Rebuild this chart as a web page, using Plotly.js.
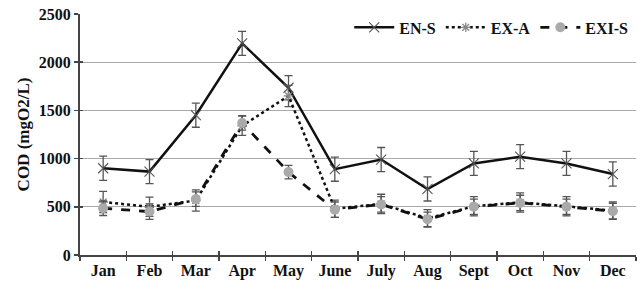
<!DOCTYPE html>
<html>
<head>
<meta charset="utf-8">
<script src="https://cdn.plot.ly/plotly-3.0.1.min.js"></script>
<style>html,body{margin:0;padding:0;background:#fff;}#chart{width:637px;height:283px;}</style>
</head>
<body>
<div id="chart"></div>
<script>
const months = ["Jan","Feb","Mar","Apr","May","June","July","Aug","Sept","Oct","Nov","Dec"];
const enS   = [900, 865, 1450, 2195, 1735, 890, 990, 685, 950, 1020, 950, 840];
const enSErr = [125, 125, 125, 125, 125, 125, 125, 125, 125, 125, 125, 125];
const exA   = [550, 500, 565, 1340, 1650, 480, 530, 380, 505, 545, 505, 460];
const exAErr = [110, 100, 110, 100, 110, 90, 100, 90, 100, 100, 100, 90];
const exiS  = [485, 450, 580, 1370, 860, 470, 525, 370, 500, 540, 500, 455];
const exiSErr = [75, 80, 75, 75, 70, 80, 80, 75, 80, 80, 80, 80];

const fam = "'Liberation Serif', 'Times New Roman', serif";
const tf = {family: fam, size: 16, color: "#111", weight: 'bold'};

const traces = [
  {x: months, y: enS, name: "EN-S", type: "scatter", mode: "lines+markers",
   line: {color: "#111", width: 2.5},
   marker: {symbol: "x-thin-open", size: 10, color: "#555", line: {color: "#555", width: 1.1}},
   error_y: {type: "data", array: enSErr, visible: true, color: "#555", thickness: 1.3, width: 4}},
  {x: months, y: exA, name: "EX-A", type: "scatter", mode: "lines+markers",
   line: {color: "#111", width: 2.5, dash: "dot"},
   marker: {symbol: "asterisk-open", size: 8, color: "#888", line: {color: "#888", width: 1.3}},
   error_y: {type: "data", array: exAErr, visible: true, color: "#555", thickness: 1.3, width: 4}},
  {x: months, y: exiS, name: "EXI-S", type: "scatter", mode: "lines+markers",
   line: {color: "#111", width: 2.8, dash: "dash"},
   marker: {symbol: "circle", size: 10, color: "#aaa"},
   error_y: {type: "data", array: exiSErr, visible: true, color: "#555", thickness: 1.3, width: 4}},
  {x: months, y: enS, xaxis: "x2", yaxis: "y2", type: "scatter", mode: "none", showlegend: false, hoverinfo: "skip"}
];

const layout = {
  width: 637, height: 283,
  margin: {l: 80, r: 1, t: 14, b: 28},
  paper_bgcolor: "#fff", plot_bgcolor: "#fff",
  font: tf,
  showlegend: true,
  legend: {orientation: "h", x: 0.995, xanchor: "right", y: 1.015, yanchor: "top",
           bgcolor: "rgba(255,255,255,0)", font: tf, itemwidth: 40, tracegroupgap: 0},
  xaxis: {type: "category", range: [-0.5, 11.5], showgrid: false, showline: true, linecolor: "#444", linewidth: 2,
          ticks: "outside", tickson: "boundaries", ticklen: 4, tickcolor: "#444", tickwidth: 1.5,
          tickfont: tf, zeroline: false, fixedrange: true},
  yaxis: {range: [0, 2500], dtick: 500, showgrid: true, gridcolor: "#aaa", gridwidth: 1,
          showline: true, linecolor: "#444", linewidth: 2, ticks: "outside", ticklen: 4, tickcolor: "#444", tickwidth: 1.5,
          zeroline: false, tickfont: tf,
          title: {text: "COD (mgO2/L)", standoff: 5, font: {family: fam, size: 17, color: "#111", weight: 'bold'}}},
  xaxis2: {type: "category", overlaying: "x", anchor: "y", range: [-0.5, 11.5], showgrid: false, showline: false,
           ticks: "inside", tickson: "boundaries", ticklen: 4, tickcolor: "#444", tickwidth: 1.5, showticklabels: false, zeroline: false},
  yaxis2: {overlaying: "y", anchor: "x", range: [0, 2500], dtick: 500, showgrid: false, showline: false,
           ticks: "inside", ticklen: 3, tickcolor: "#444", tickwidth: 1.5, showticklabels: false, zeroline: false}
};

Plotly.newPlot("chart", traces, layout, {displayModeBar: false, staticPlot: true});
</script>
</body>
</html>
